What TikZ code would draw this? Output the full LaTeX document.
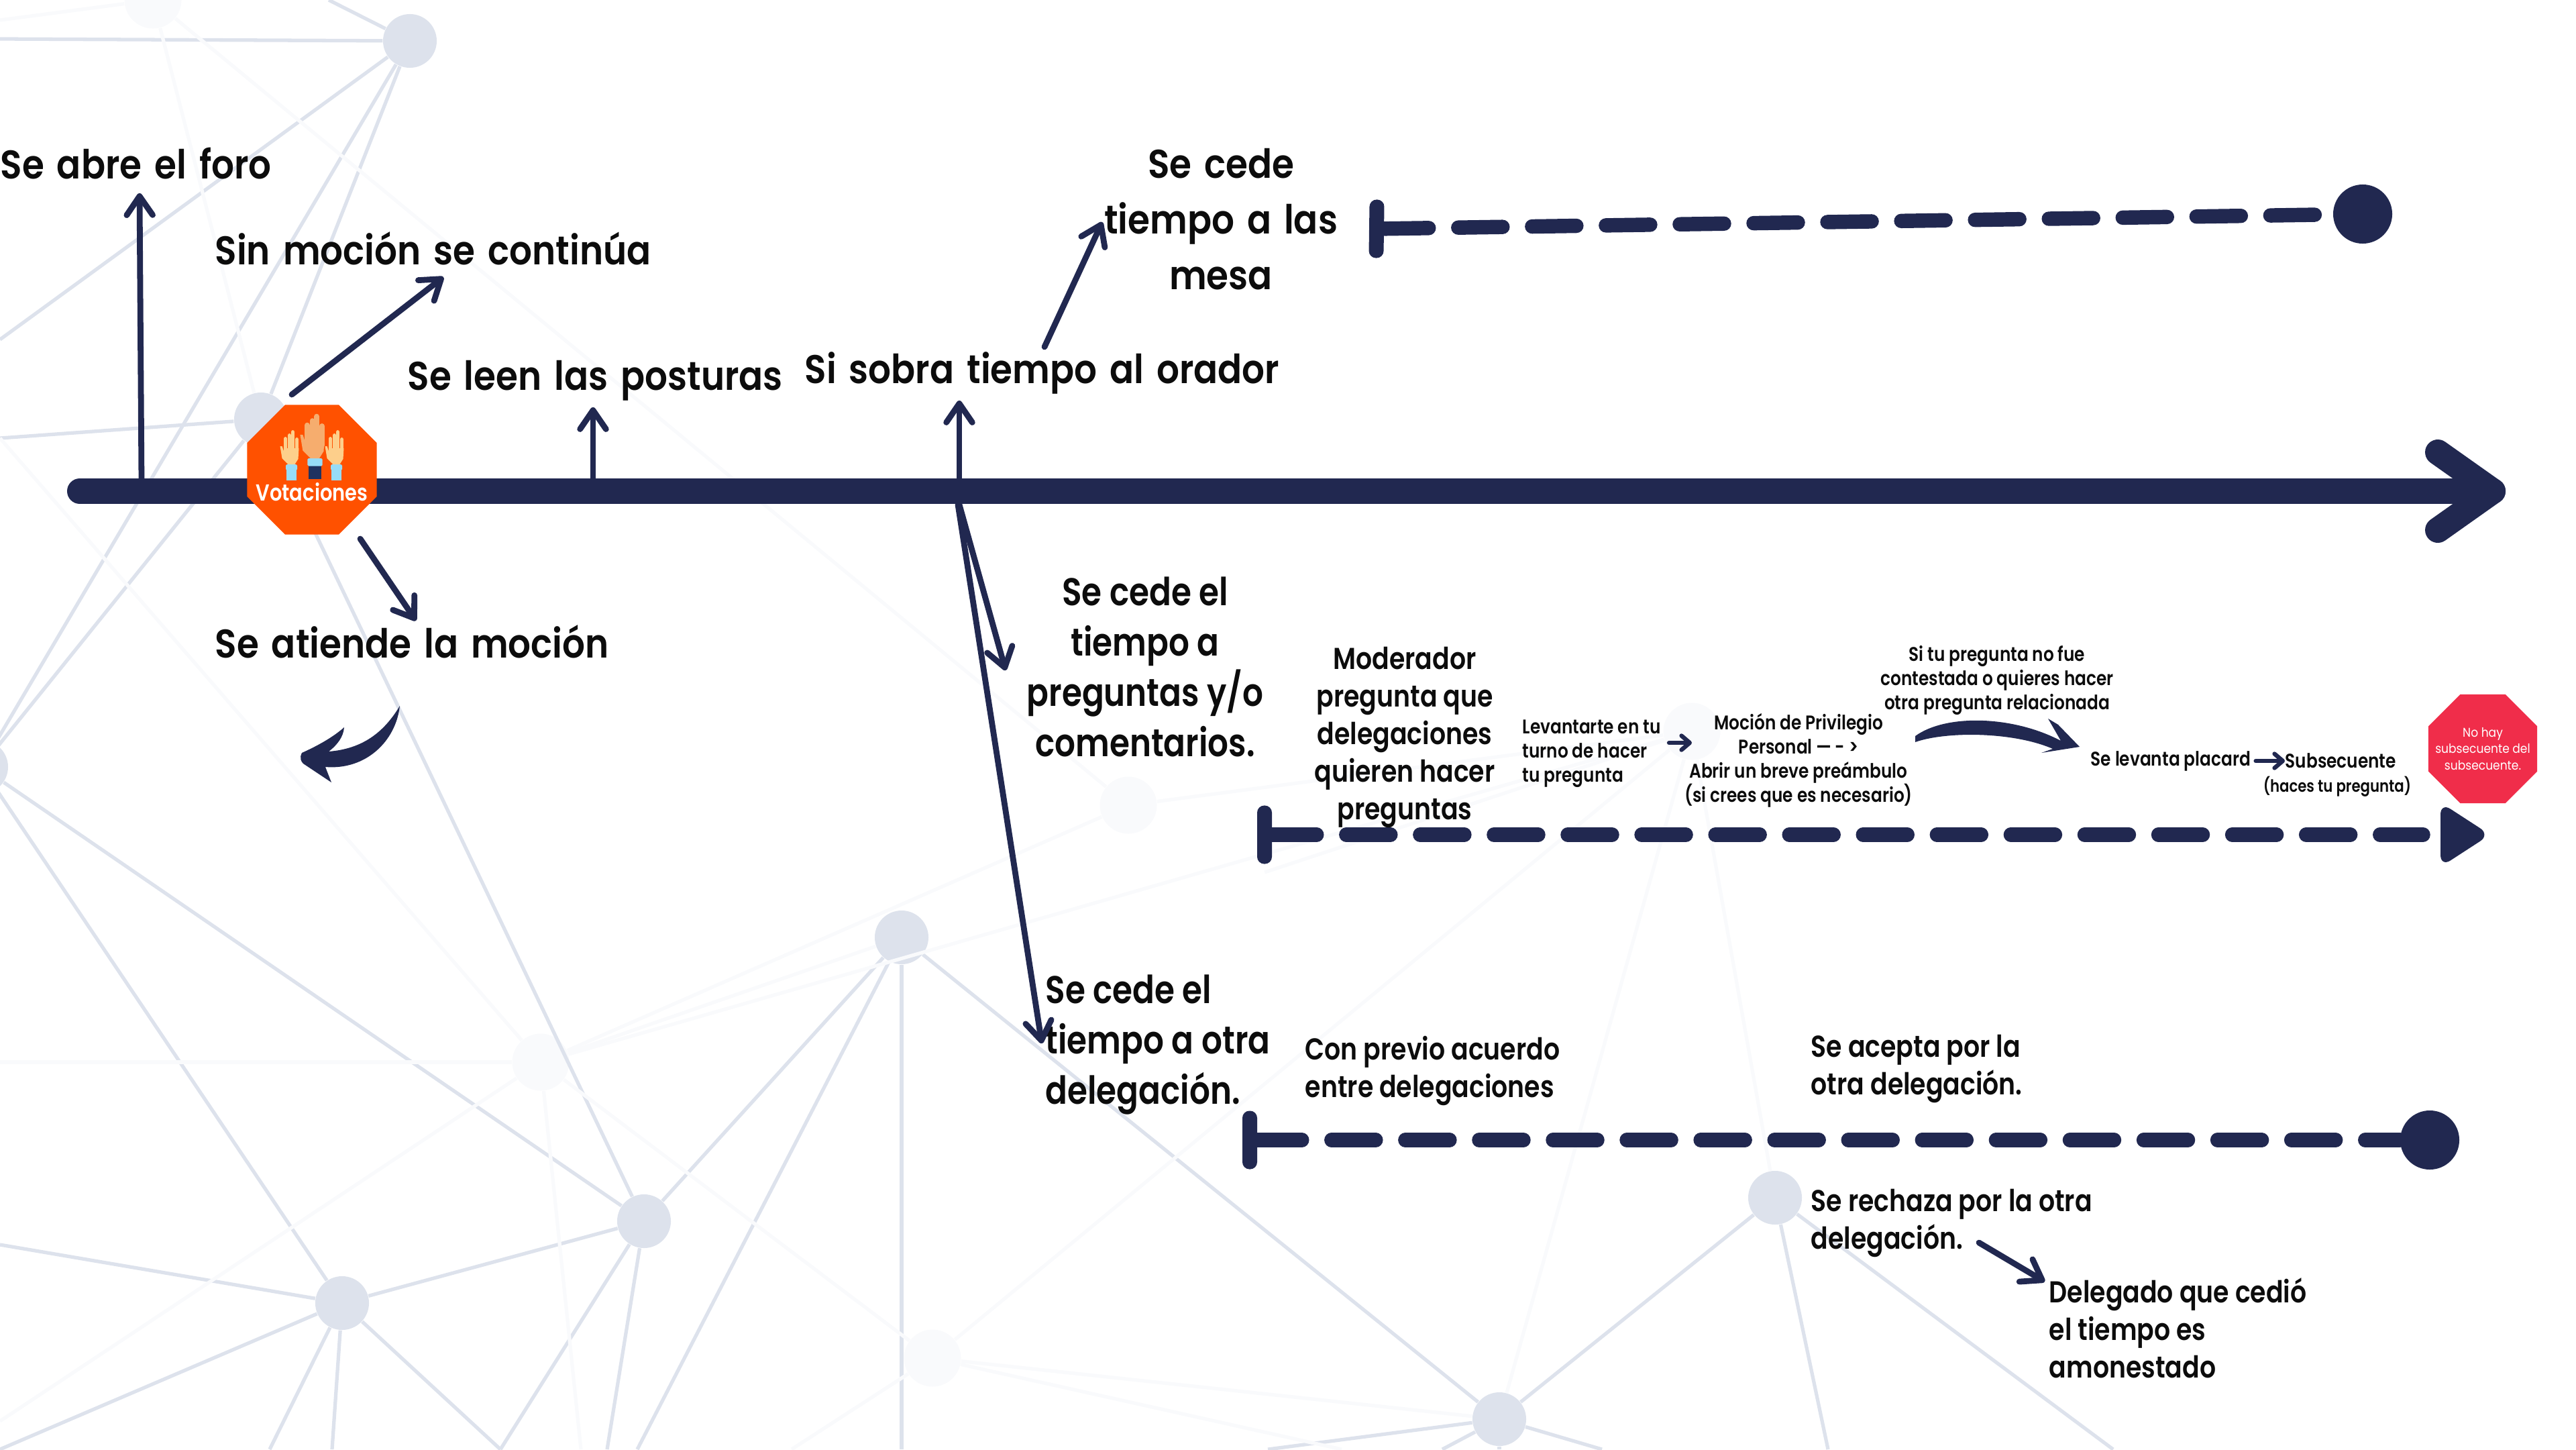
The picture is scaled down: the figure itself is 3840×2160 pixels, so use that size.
\documentclass[tikz,border=0pt]{standalone}
\usepackage{fontspec}
\setmainfont{Poppins}[UprightFont=* SemiBold,FakeStretch=0.84]
\newfontfamily\granfont{Poppins}[UprightFont=* SemiBold,FakeStretch=0.89,WordSpace=1.5]
\newfontfamily\finafont{Poppins}[FakeStretch=0.9]
\usetikzlibrary{arrows.meta,shapes.geometric}
\definecolor{azul}{HTML}{212850}
\definecolor{red1}{HTML}{DDE2EC}
\definecolor{red2}{HTML}{F9FAFC}
\definecolor{naranja}{HTML}{FF5100}
\definecolor{rojo}{HTML}{F02D4A}
\definecolor{texto}{HTML}{0C0C0C}
\definecolor{piel1}{HTML}{FDCF8B}
\definecolor{piel2}{HTML}{F6AD6E}
\definecolor{puno}{HTML}{97DCF7}
\definecolor{manga}{HTML}{1F3260}
\tikzset{
 nodo/.style={circle,fill=red1,minimum size=0.8cm,inner sep=0pt},
 nodof/.style={circle,fill=red2,minimum size=0.85cm,inner sep=0pt},
 flecha/.style={azul,line width=2.5pt,line cap=round,-{Straight Barb[length=8pt,width=11pt,round]}},
 flechita/.style={azul,line width=1.8pt,line cap=round,-{Straight Barb[length=3.5pt,width=6pt,round]}},
 eje/.style={azul,line width=10.8pt,line cap=round,line join=round},
 trazo/.style={azul,line width=6.1pt,line cap=round,dash pattern=on 0.66cm off 0.44cm},
 barra/.style={fill=azul,rounded corners=3pt,minimum width=0.22cm,minimum height=0.87cm,inner sep=0pt},
 fin/.style={circle,fill=azul,minimum size=0.88cm,inner sep=0pt},
 gran/.style={text=texto,inner sep=0pt,font=\granfont\fontsize{17}{23.6}\selectfont},
 grandos/.style={text=texto,inner sep=0pt,font=\fontsize{16.4}{21.3}\selectfont},
 medio/.style={text=texto,inner sep=0pt,font=\fontsize{12.8}{15.9}\selectfont},
 chico/.style={text=texto,inner sep=0pt,font=\fontsize{8.4}{10.2}\selectfont},
 octa/.style={regular polygon,regular polygon sides=8,inner sep=0pt}
}
\newcommand{\manita}[6]{% x, y, size, skin, cuff, sleeve
 \begin{scope}[shift={(#1,#2)},x=#3*0.01cm,y=-#3*0.01cm]
  \fill[#6] (-7.5,8) rectangle (7.5,24);
  \fill[#5,rounded corners=0.5pt] (-8.5,0) rectangle (8.5,9);
  \fill[#4] (-5,0) -- (-14,-9) -- (-17,-27) -- (-14,-27) -- (-10,-15) -- (-11,-24) -- (11,-24) -- (10,-8) -- (5,0) -- cycle;
  \foreach \fx/\fy in {-9/-38,-3/-43,2/-48,8/-37}
   \draw[#4,line width=#3*1.7pt,line cap=round] (\fx,-15) -- (\fx,\fy);
 \end{scope}}
\begin{document}
\begin{tikzpicture}[x=0.01cm,y=-0.01cm]
 \useasboundingbox (0,0) rectangle (3840,2160);
 % fondo
 \foreach \n/\x/\y in {na/611/61,nb/389/625,nc/960/1820,nd/510/1942,ne/1344/1397,nf/2646/1785,ng/2235/2115,nl/-28/1143}
  \node [nodo] (\n) at (\x,\y) {};
 \foreach \n/\x/\y in {nt/228/0,nh/806/1583,ni/1390/2024,nj/1682/1200,nk/2522/1090}
  \node [nodof] (\n) at (\x,\y) {};
 \foreach \n/\x/\y in {e1/0/58,e2/490/0,e3/0/506,e4/0/653,e5/0/1855,e6/0/2160,e7/402/2160,e8/495/2160,e9/746/2160,e10/905/2160,e11/950/2160,e12/1344/2160,e13/1890/2160,e14/2388/2160,e15/2235/2160,e16/2150/2160,e17/2725/2160,e18/3150/2160,e19/0/1583,e20/0/2118,e21/866/2160,e22/1885/1300,e23/2000/2160,e24/1180/2160,e25/0/30}
  \coordinate (\n) at (\x,\y);
 \foreach \a/\b in {na/e1,na/e2,na/e3,na/nb,na/nl,nb/e4,nb/nl,nb/nc,nl/nc,nl/nd,e5/nd,nd/nc,nd/e6,nd/e7,nd/e8,nd/e9,nc/e9,nc/e10,nc/ne,ne/e11,ne/e12,ne/ng,nf/ng,nf/e17,nf/e18,ng/e13,ng/e14,ng/e15,ng/e16}
  \draw [red1,line width=1.5pt] (\a) -- (\b);
 \foreach \a/\b in {nt/nj,nt/nb,nt/e25,e4/nh,nh/e19,nh/e20,nh/e21,nh/ne,nh/ni,nh/nj,nh/nk,ni/e23,ni/e24,ni/nk,ni/ng,nk/nf,nk/ng,nk/e22,nj/nk}
  \draw [red2,line width=1.5pt] (\a) -- (\b);
 % eje principal
 \coordinate (ini) at (119,732);
 \coordinate (tope) at (3716,732);
 \draw [eje] (ini) -- (tope);
 \draw [eje] (3634,674) -- (tope) -- (3634,790);
 % textos de arriba
 \node [gran,anchor=west] (foro) at (0,243) {Se abre el foro};
 \node [gran,anchor=west] (sinmocion) at (320,370) {Sin moción se continúa};
 \node [gran,anchor=west] (posturas) at (607,567) {Se leen las posturas};
 \node [gran,anchor=west] (sobra) at (1199,556) {Si sobra tiempo al orador};
 \node [gran,anchor=west] (atiende) at (320,956) {Se atiende la moción};
 \node [gran,align=center] (mesa) at (1820,327) {Se cede\\tiempo a las\\mesa};
 \node [grandos,align=center] (preguntas) at (1707,994) {Se cede el\\tiempo a\\preguntas y/o\\comentarios.};
 \node [grandos,align=left,anchor=west] (otra) at (1558,1557) {Se cede el\\tiempo a otra\\delegación.};
 % flechas del eje
 \foreach \n/\x/\y in {a1/211/716,b1/208/288,a2/435/588,b2/661/413,a3/884/716,b3/884/607,a4/1430/725,b4/1430/597,a5/1557/517,b5/1643/331,a6/537/803,b6/620/925,a7/1430/752,b7/1499/999,a8/1428/752,b8/1553/1555}
  \coordinate (\n) at (\x,\y);
 \foreach \i in {1,...,8}
  \draw [flecha] (a\i) -- (b\i);
 % flecha curva
 \fill [azul] (596,1052) .. controls (572,1092) and (540,1116) .. (490,1120) .. controls (503,1110) and (512,1098) .. (513,1084) .. controls (495,1100) and (470,1113) .. (450,1122) .. controls (446,1130) and (449,1135) .. (452,1138) -- (494,1166) -- (485,1143) .. controls (545,1148) and (590,1105) .. (596,1052) -- cycle;
 % votaciones
 \node [octa,fill=naranja,minimum size=5.5cm,scale=0.38] (vot) at (465,700) {};
 \manita{434.5}{692}{1}{piel1}{puno}{puno}
 \manita{469.5}{683}{1.3}{piel2}{puno}{manga}
 \manita{501.5}{692}{1}{piel1}{puno}{puno}
 \node [white,inner sep=0pt,font=\fontsize{9.8}{10}\selectfont] (votlabel) at (465,733) {Votaciones};
 % linea de mesa
 \node [barra,rotate=-0.8] (bar1) at (2052,341) {};
 \node [fin] (fin1) at (3522,319) {};
 \draw [trazo] (bar1) -- (fin1);
 % linea de preguntas
 \node [barra] (bar2) at (1885,1244) {};
 \coordinate (fin2) at (3612,1244);
 \draw [trazo] (bar2) -- (fin2);
 \fill [azul,rounded corners=5pt] (3638,1196) -- (3712,1244) -- (3638,1292) -- cycle;
 % linea de delegacion
 \node [barra] (bar3) at (1863,1699) {};
 \node [fin] (fin3) at (3622,1699) {};
 \draw [trazo] (bar3) -- (fin3);
 % preguntas
 \node [medio,align=center] (moderador) at (2094,1099) {Moderador\\pregunta que\\delegaciones\\quieren hacer\\preguntas};
 \node [chico,align=left,anchor=west] (levantarte) at (2269,1123) {Levantarte en tu\\turno de hacer\\tu pregunta};
 \node [chico,align=center] (privilegio) at (2681,1133) {Moción de Privilegio\\Personal ---\,- >\\Abrir un breve preámbulo\\(si crees que es necesario)};
 \node [chico,align=center] (relacionada) at (2977,1014) {Si tu pregunta no fue\\contestada o quieres hacer\\otra pregunta relacionada};
 \node [chico,anchor=west] (placard) at (3116,1134) {Se levanta placard};
 \node [chico,anchor=west] (subsecuente) at (3406,1134) {Subsecuente};
 \node [chico,anchor=west,font=\fontsize{7.2}{9}\selectfont] (haces) at (3373,1172) {(haces tu pregunta)};
 \coordinate (c1) at (2488,1107);
 \coordinate (c2) at (2522,1107);
 \draw [flechita] (c1) -- (c2);
 \draw [flechita,shorten <=2pt] (placard) -- (subsecuente);
 \fill [azul] (2855,1097) .. controls (2900,1064) and (3000,1066) .. (3072,1104) -- (3053,1071) -- (3068,1080) -- (3100,1113) -- (3043,1122) -- (3060,1116) .. controls (3000,1090) and (2900,1090) .. (2855,1106) -- cycle;
 \node [octa,fill=rojo,minimum size=4.5cm,scale=0.39,text=white] (nohay) at (3701,1116) {};
 \node [white,align=center,inner sep=0pt,font=\finafont\fontsize{5.4}{7}\selectfont] (nohaytxt) at (3701,1116) {No hay\\subsecuente del\\subsecuente.};
 % delegacion
 \node [medio,align=left,anchor=west] (previo) at (1945,1596) {Con previo acuerdo\\entre delegaciones};
 \node [medio,align=left,anchor=west] (acepta) at (2699,1593) {Se acepta por la\\otra delegación.};
 \node [medio,align=left,anchor=west] (rechaza) at (2699,1823) {Se rechaza por la otra\\delegación.};
 \node [medio,align=left,anchor=west] (amonestado) at (3054,1979) {Delegado que cedió\\el tiempo es\\amonestado};
 \coordinate (d1) at (2950,1852);
 \coordinate (d2) at (3048,1910);
 \draw [flecha] (d1) -- (d2);
\end{tikzpicture}
\end{document}
